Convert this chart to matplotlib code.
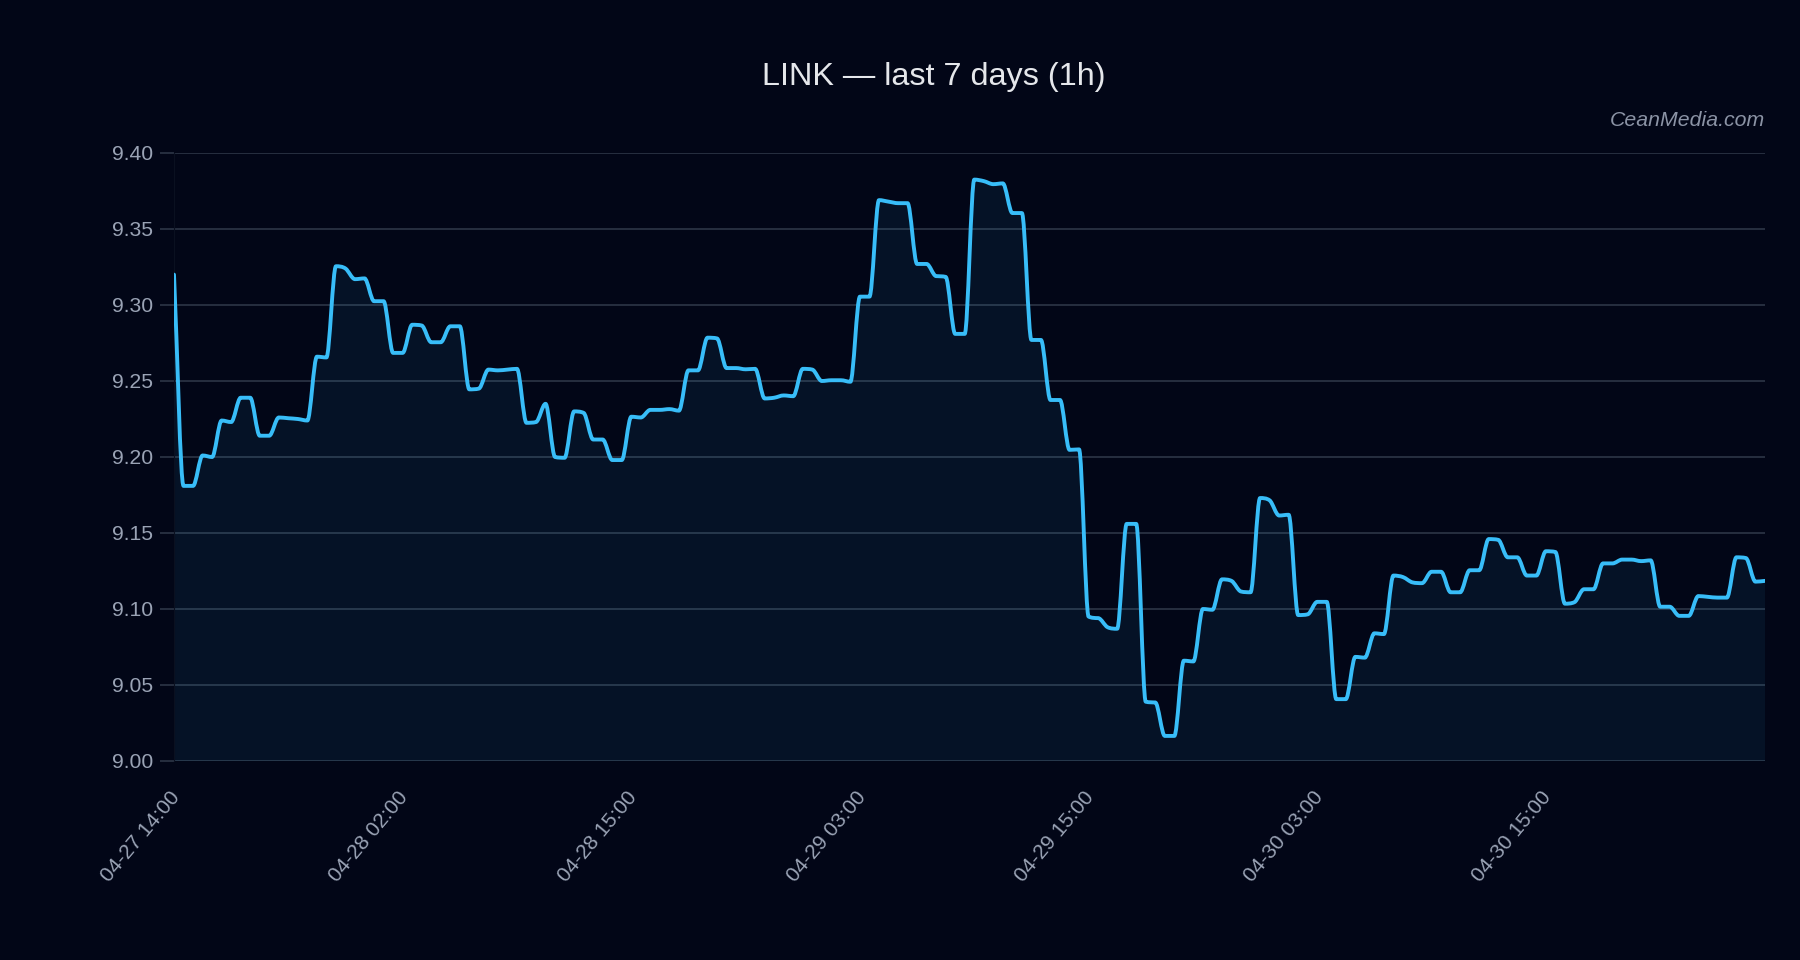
import numpy as np
import matplotlib
matplotlib.use("Agg")
import matplotlib.pyplot as plt
from matplotlib.path import Path
from matplotlib.patches import PathPatch
from matplotlib.transforms import ScaledTranslation

# LINK price, one point per half step of the category axis
prices = [
    9.320, 9.181, 9.181, 9.201, 9.200, 9.224, 9.223, 9.239, 9.239, 9.214,
    9.214, 9.226, 9.2255, 9.225, 9.224, 9.266, 9.2655, 9.3255, 9.324, 9.317,
    9.3175, 9.3025, 9.3025, 9.2685, 9.2685, 9.287, 9.2865, 9.2755, 9.2755, 9.286,
    9.286, 9.2445, 9.245, 9.2575, 9.257, 9.2575, 9.258, 9.2225, 9.223, 9.235,
    9.200, 9.1995, 9.230, 9.229, 9.2115, 9.2115, 9.198, 9.198, 9.2265, 9.226,
    9.231, 9.231, 9.2315, 9.2305, 9.257, 9.257, 9.2785, 9.278, 9.2585, 9.2585,
    9.2577, 9.258, 9.2385, 9.239, 9.2405, 9.240, 9.258, 9.2575, 9.250, 9.2505,
    9.2505, 9.2495, 9.3055, 9.3055, 9.369, 9.368, 9.367, 9.367, 9.327, 9.327,
    9.319, 9.3185, 9.281, 9.281, 9.3825, 9.3815, 9.3795, 9.380, 9.3605, 9.3605,
    9.277, 9.277, 9.2375, 9.2375, 9.2047, 9.205, 9.095, 9.094, 9.088, 9.087,
    9.156, 9.156, 9.039, 9.0385, 9.0165, 9.0165, 9.066, 9.0655, 9.100, 9.0995,
    9.1195, 9.1185, 9.1115, 9.111, 9.173, 9.1715, 9.1615, 9.162, 9.096, 9.0965,
    9.1047, 9.1047, 9.0407, 9.0407, 9.0685, 9.068, 9.084, 9.0835, 9.122, 9.121,
    9.1175, 9.117, 9.1245, 9.1245, 9.111, 9.111, 9.1255, 9.1255, 9.146, 9.1455,
    9.134, 9.134, 9.122, 9.122, 9.138, 9.1375, 9.1035, 9.1045, 9.113, 9.113,
    9.130, 9.130, 9.1325, 9.1325, 9.1315, 9.132, 9.1015, 9.1015, 9.0955, 9.0955,
    9.1085, 9.108, 9.1075, 9.1075, 9.134, 9.1335, 9.118, 9.1185,
]
tick_labels = ["04-27 14:00", "04-28 02:00", "04-28 15:00", "04-29 03:00",
               "04-29 15:00", "04-30 03:00", "04-30 15:00"]
y_ticks = [9.00, 9.05, 9.10, 9.15, 9.20, 9.25, 9.30, 9.35, 9.40]
title = "LINK — last 7 days (1h)"
watermark = "CeanMedia.com"

BG = "#020617"
LINE = "#38bdf8"
GRID = "#2d3547"
TEXT = "#9aa3b5"

plt.rcParams['font.family'] = ['Liberation Sans', 'DejaVu Sans']


def monotone_slopes(x, y):
    # monotone cubic tangents (Fritsch-Carlson, like chart.js)
    d = np.diff(y) / np.diff(x)
    m = np.zeros(len(x))
    m[0], m[-1] = d[0], d[-1]
    for i in range(1, len(x) - 1):
        if d[i - 1] == 0 or d[i] == 0 or np.sign(d[i - 1]) != np.sign(d[i]):
            m[i] = 0
        else:
            m[i] = (d[i - 1] + d[i]) / 2
    for i in range(len(d)):
        if abs(d[i]) < 1e-12:
            m[i] = m[i + 1] = 0
            continue
        a, b = m[i] / d[i], m[i + 1] / d[i]
        t = a * a + b * b
        if t > 9:
            s = 3 / np.sqrt(t)
            m[i], m[i + 1] = a * s * d[i], b * s * d[i]
    return m


def curve_verts(x, y):
    m = monotone_slopes(x, y)
    verts = [(x[0], y[0])]
    codes = [Path.MOVETO]
    for i in range(len(x) - 1):
        h = (x[i + 1] - x[i]) / 3
        verts += [(x[i] + h, y[i] + m[i] * h),
                  (x[i + 1] - h, y[i + 1] - m[i + 1] * h),
                  (x[i + 1], y[i + 1])]
        codes += [Path.CURVE4] * 3
    return verts, codes


y = np.array(prices)
x = np.arange(len(y), dtype=float)
ymin, ymax = y_ticks[0], y_ticks[-1]

fig = plt.figure(figsize=(18, 9.6), dpi=100, facecolor=BG)
ax = fig.add_axes([174 / 1800, 1 - 761 / 960, (1765 - 174) / 1800, (761 - 153) / 960])
ax.set_facecolor(BG)

verts, codes = curve_verts(x, y)
fill_verts = verts + [(x[-1], ymin), (x[0], ymin), (x[0], y[0])]
fill_codes = codes + [Path.LINETO, Path.LINETO, Path.CLOSEPOLY]
ax.add_patch(PathPatch(Path(fill_verts, fill_codes), facecolor=LINE, alpha=0.07,
                       edgecolor='none', zorder=2))
ax.add_patch(PathPatch(Path(verts, codes), facecolor='none', edgecolor=LINE,
                       linewidth=2.8, capstyle='round', joinstyle='round', zorder=3))

ax.set_xlim(0, len(y) - 1)
ax.set_ylim(ymin, ymax)

ax.set_yticks(y_ticks)
ax.set_yticklabels([f"{v:.2f}" for v in y_ticks])
ax.yaxis.grid(True, color=GRID, linewidth=1.2)
ax.set_axisbelow(True)
ax.tick_params(axis='y', colors=GRID, labelcolor=TEXT, labelsize=15.2,
               length=10, width=1.2, pad=5)

ax.set_xticks(np.arange(0, len(y), 24)[:len(tick_labels)])
ax.set_xticklabels(tick_labels, rotation=50, ha='right', rotation_mode='anchor')
ax.tick_params(axis='x', length=0, labelcolor=TEXT, labelsize=15, pad=19)
shift = ScaledTranslation(-5 / 100, 0, fig.dpi_scale_trans)
for lbl in ax.get_xticklabels():
    lbl.set_transform(lbl.get_transform() + shift)

for side in ['top', 'right', 'bottom']:
    ax.spines[side].set_visible(False)
ax.spines['left'].set_color('#0a1020')

fig.text(934 / 1800, 1 - 77 / 960, title, ha='center', va='center',
         fontsize=23.3, color='#e5e7eb')
fig.text(1765 / 1800, 1 - 121 / 960, watermark, ha='right', va='center',
         fontsize=15.3, style='italic', color='#8b93a5')

fig.savefig('out.png', dpi=100, facecolor=BG)
